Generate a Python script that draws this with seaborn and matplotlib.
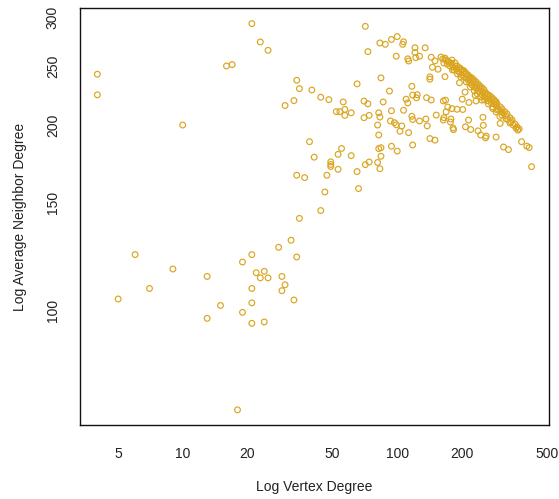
import matplotlib
matplotlib.use("Agg")
import matplotlib.pyplot as plt
import seaborn as sns
import pandas as pd
from matplotlib.ticker import FixedLocator, FixedFormatter, NullLocator

# ---- data (vertex degree, average neighbour degree) ----
degree = [
    # low-degree vertices
    4, 4, 10, 16, 17, 21, 23, 25, 34, 35, 33, 30, 39, 34, 37, 35, 6, 5, 7, 9,
    13, 13, 15, 19, 21, 22, 24, 23, 25, 21, 21, 19, 21, 24, 28, 32, 34, 29, 30, 29,
    33, 18,
    # mid-degree vertices
    40, 44, 48, 56, 52, 54, 57, 61, 57, 65, 70, 73, 70, 74, 71, 73, 83, 88, 94, 100,
    106, 107, 99, 121, 121, 127, 122, 135, 112, 113, 144, 150, 146, 155, 142, 142, 84, 92, 117, 118,
    124, 123, 110, 112, 137, 144, 86, 82, 83, 94, 107, 93, 97, 99, 105, 117, 118, 127, 136, 138,
    152, 81, 82, 103, 113, 118, 94, 100, 142, 150, 55, 53, 61, 49, 49, 49, 53, 47, 46, 65,
    66, 44, 41, 71, 74, 82, 84, 84, 81, 83,
    # high-degree vertices
    164, 168, 165, 164, 169, 172, 180, 190, 202, 178, 177, 182, 183, 201, 216, 207, 195, 167, 233, 248,
    231, 215, 208, 220, 238, 245, 258, 260, 251, 252, 289, 302, 301, 279, 289, 313, 330, 380, 402, 412,
    423, 365,
    # dense band
    160, 163, 165, 169, 171, 174, 176, 178, 182, 184, 186, 188, 192, 194, 196, 198, 200, 203, 205, 207,
    209, 211, 214, 216, 218, 221, 223, 226, 228, 230, 233, 235, 238, 241, 243, 246, 249, 251, 254, 257,
    259, 262, 265, 271, 274, 277, 283, 286, 289, 292, 295, 302, 305, 308, 311, 318, 321, 325, 328, 336,
    339, 343, 347, 354, 358, 362, 370,
    167, 172, 180, 186, 190, 196, 201, 205, 209, 214, 218, 223, 228, 233, 238, 243, 249, 254, 259, 265,
    271, 277, 283, 289,
    181, 191, 198, 210, 219, 229, 236, 244, 255, 266, 278, 292, 308, 322, 335,
]

avg_neighbor_degree = [
    242.4, 224.4, 200.4, 250.0, 251.3, 293.0, 273.5, 265.1, 237.0, 229.7, 219.6, 215.6, 188.3, 166.1, 164.6, 141.3, 123.4, 104.5, 108.7, 116.9,
    113.7, 97.2, 102.0, 120.0, 123.4, 115.3, 115.9, 113.1, 113.1, 108.7, 103.0, 99.4, 95.4, 95.9, 126.8, 130.2, 122.3, 113.7, 110.2, 107.8,
    104.1, 69.0,
    228.5, 222.4, 220.4, 218.5, 210.7, 210.7, 212.5, 209.8, 207.8, 233.8, 219.2, 217.0, 206.0, 207.8, 290.0, 263.8, 272.5, 271.1, 276.1, 279.1,
    271.1, 273.7, 259.3, 267.7, 262.9, 259.3, 257.9, 267.6, 256.8, 254.7, 258.3, 254.8, 248.8, 247.0, 240.0, 237.9, 239.1, 227.6, 231.7, 224.2,
    224.5, 221.9, 220.8, 217.7, 222.0, 220.1, 218.5, 209.8, 206.5, 211.4, 211.8, 203.5, 202.2, 200.6, 199.7, 207.1, 204.6, 203.5, 205.0, 199.8,
    208.0, 200.4, 193.1, 195.8, 194.8, 186.0, 185.1, 181.8, 190.5, 189.4, 183.6, 179.6, 178.7, 174.6, 172.9, 171.6, 169.8, 166.1, 156.0, 168.4,
    158.0, 145.5, 177.7, 172.8, 174.5, 183.5, 184.1, 178.3, 174.2, 170.2,
    219.3, 220.0, 206.0, 204.2, 210.6, 214.4, 213.1, 212.6, 212.4, 205.0, 202.7, 198.2, 197.0, 220.8, 218.1, 226.7, 234.8, 240.2, 219.3, 220.0,
    223.9, 204.2, 199.1, 197.1, 196.1, 193.1, 191.0, 192.3, 206.3, 200.2, 191.6, 201.6, 207.0, 213.1, 210.5, 184.6, 182.8, 188.3, 185.2, 184.2,
    171.5, 196.6,
    258.5, 256.6, 252.8, 255.6, 251.8, 253.7, 250.0, 252.8, 249.0, 246.3, 250.0, 247.2, 245.4, 248.1, 243.5, 246.3, 241.7, 244.4, 239.9, 242.6,
    239.0, 240.8, 237.2, 239.0, 234.6, 237.2, 232.8, 235.5, 231.1, 233.7, 230.3, 232.0, 227.7, 230.3, 226.9, 228.6, 224.4, 226.9, 222.7, 225.2,
    221.9, 223.5, 219.4, 221.0, 217.7, 220.2, 216.9, 218.6, 215.3, 216.9, 212.9, 214.5, 211.3, 212.9, 209.7, 210.5, 207.4, 208.9, 205.0, 205.8,
    202.8, 204.3, 200.4, 201.2, 198.2, 199.0, 197.5,
    257.5, 254.6, 255.6, 252.8, 250.0, 248.1, 246.3, 245.4, 243.5, 241.7, 239.9, 239.0, 237.2, 235.5, 233.7, 232.0, 230.3, 228.6, 226.0, 224.4,
    223.5, 221.9, 220.2, 218.6,
    246.3, 242.6, 239.9, 235.5, 231.1, 227.7, 225.2, 222.7, 220.2, 216.9, 214.5, 212.1, 208.1, 205.0, 202.0,
]

x_ticks = [5, 10, 20, 50, 100, 200, 500]
y_ticks = [100, 150, 200, 250, 300]
x_label = "Log Vertex Degree"
y_label = "Log Average Neighbor Degree"

sns.set_style("white")
plt.rcParams['font.family'] = ['Liberation Sans', 'DejaVu Sans']

W, H = 559, 499
fig = plt.figure(figsize=(W / 100, H / 100), dpi=100)
L, R, T, B = 80, 549, 8, 425
ax = fig.add_axes([L / W, 1 - B / H, (R - L) / W, (B - T) / H])

df = pd.DataFrame({"degree": degree, "knn": avg_neighbor_degree})
sns.scatterplot(data=df, x="degree", y="knn", ax=ax, marker="o", s=17,
                facecolor="none", edgecolor="#DAA520", linewidth=0.85)

ax.set_xscale("log")
ax.set_yscale("log")
ax.set_xlim(3.32, 510)
ax.set_ylim(65.2, 310.6)

ax.xaxis.set_major_locator(FixedLocator(x_ticks))
ax.xaxis.set_major_formatter(FixedFormatter([str(v) for v in x_ticks]))
ax.yaxis.set_major_locator(FixedLocator(y_ticks))
ax.yaxis.set_major_formatter(FixedFormatter([str(v) for v in y_ticks]))
ax.xaxis.set_minor_locator(NullLocator())
ax.yaxis.set_minor_locator(NullLocator())

ax.tick_params(axis="both", direction="out", length=6.5, width=0.9,
               color="#222222", labelsize=10, labelcolor="#222222")
ax.tick_params(axis="x", pad=9)
ax.tick_params(axis="y", pad=8, labelrotation=90)
for lab in ax.get_yticklabels():
    lab.set_va("center")

for sp in ax.spines.values():
    sp.set_visible(True)
    sp.set_color("#111111")
    sp.set_linewidth(1.0)

ax.set_xlabel(x_label, fontsize=10, color="#222222")
ax.set_ylabel(y_label, fontsize=10, color="#222222")
ax.xaxis.set_label_coords(0.5, (B - 487) / (B - T))
ax.xaxis.label.set_va("center")
ax.yaxis.set_label_coords((20 - L) / (R - L), 0.5)
ax.yaxis.label.set_va("center")

fig.savefig("out.png", dpi=100, facecolor="white")
